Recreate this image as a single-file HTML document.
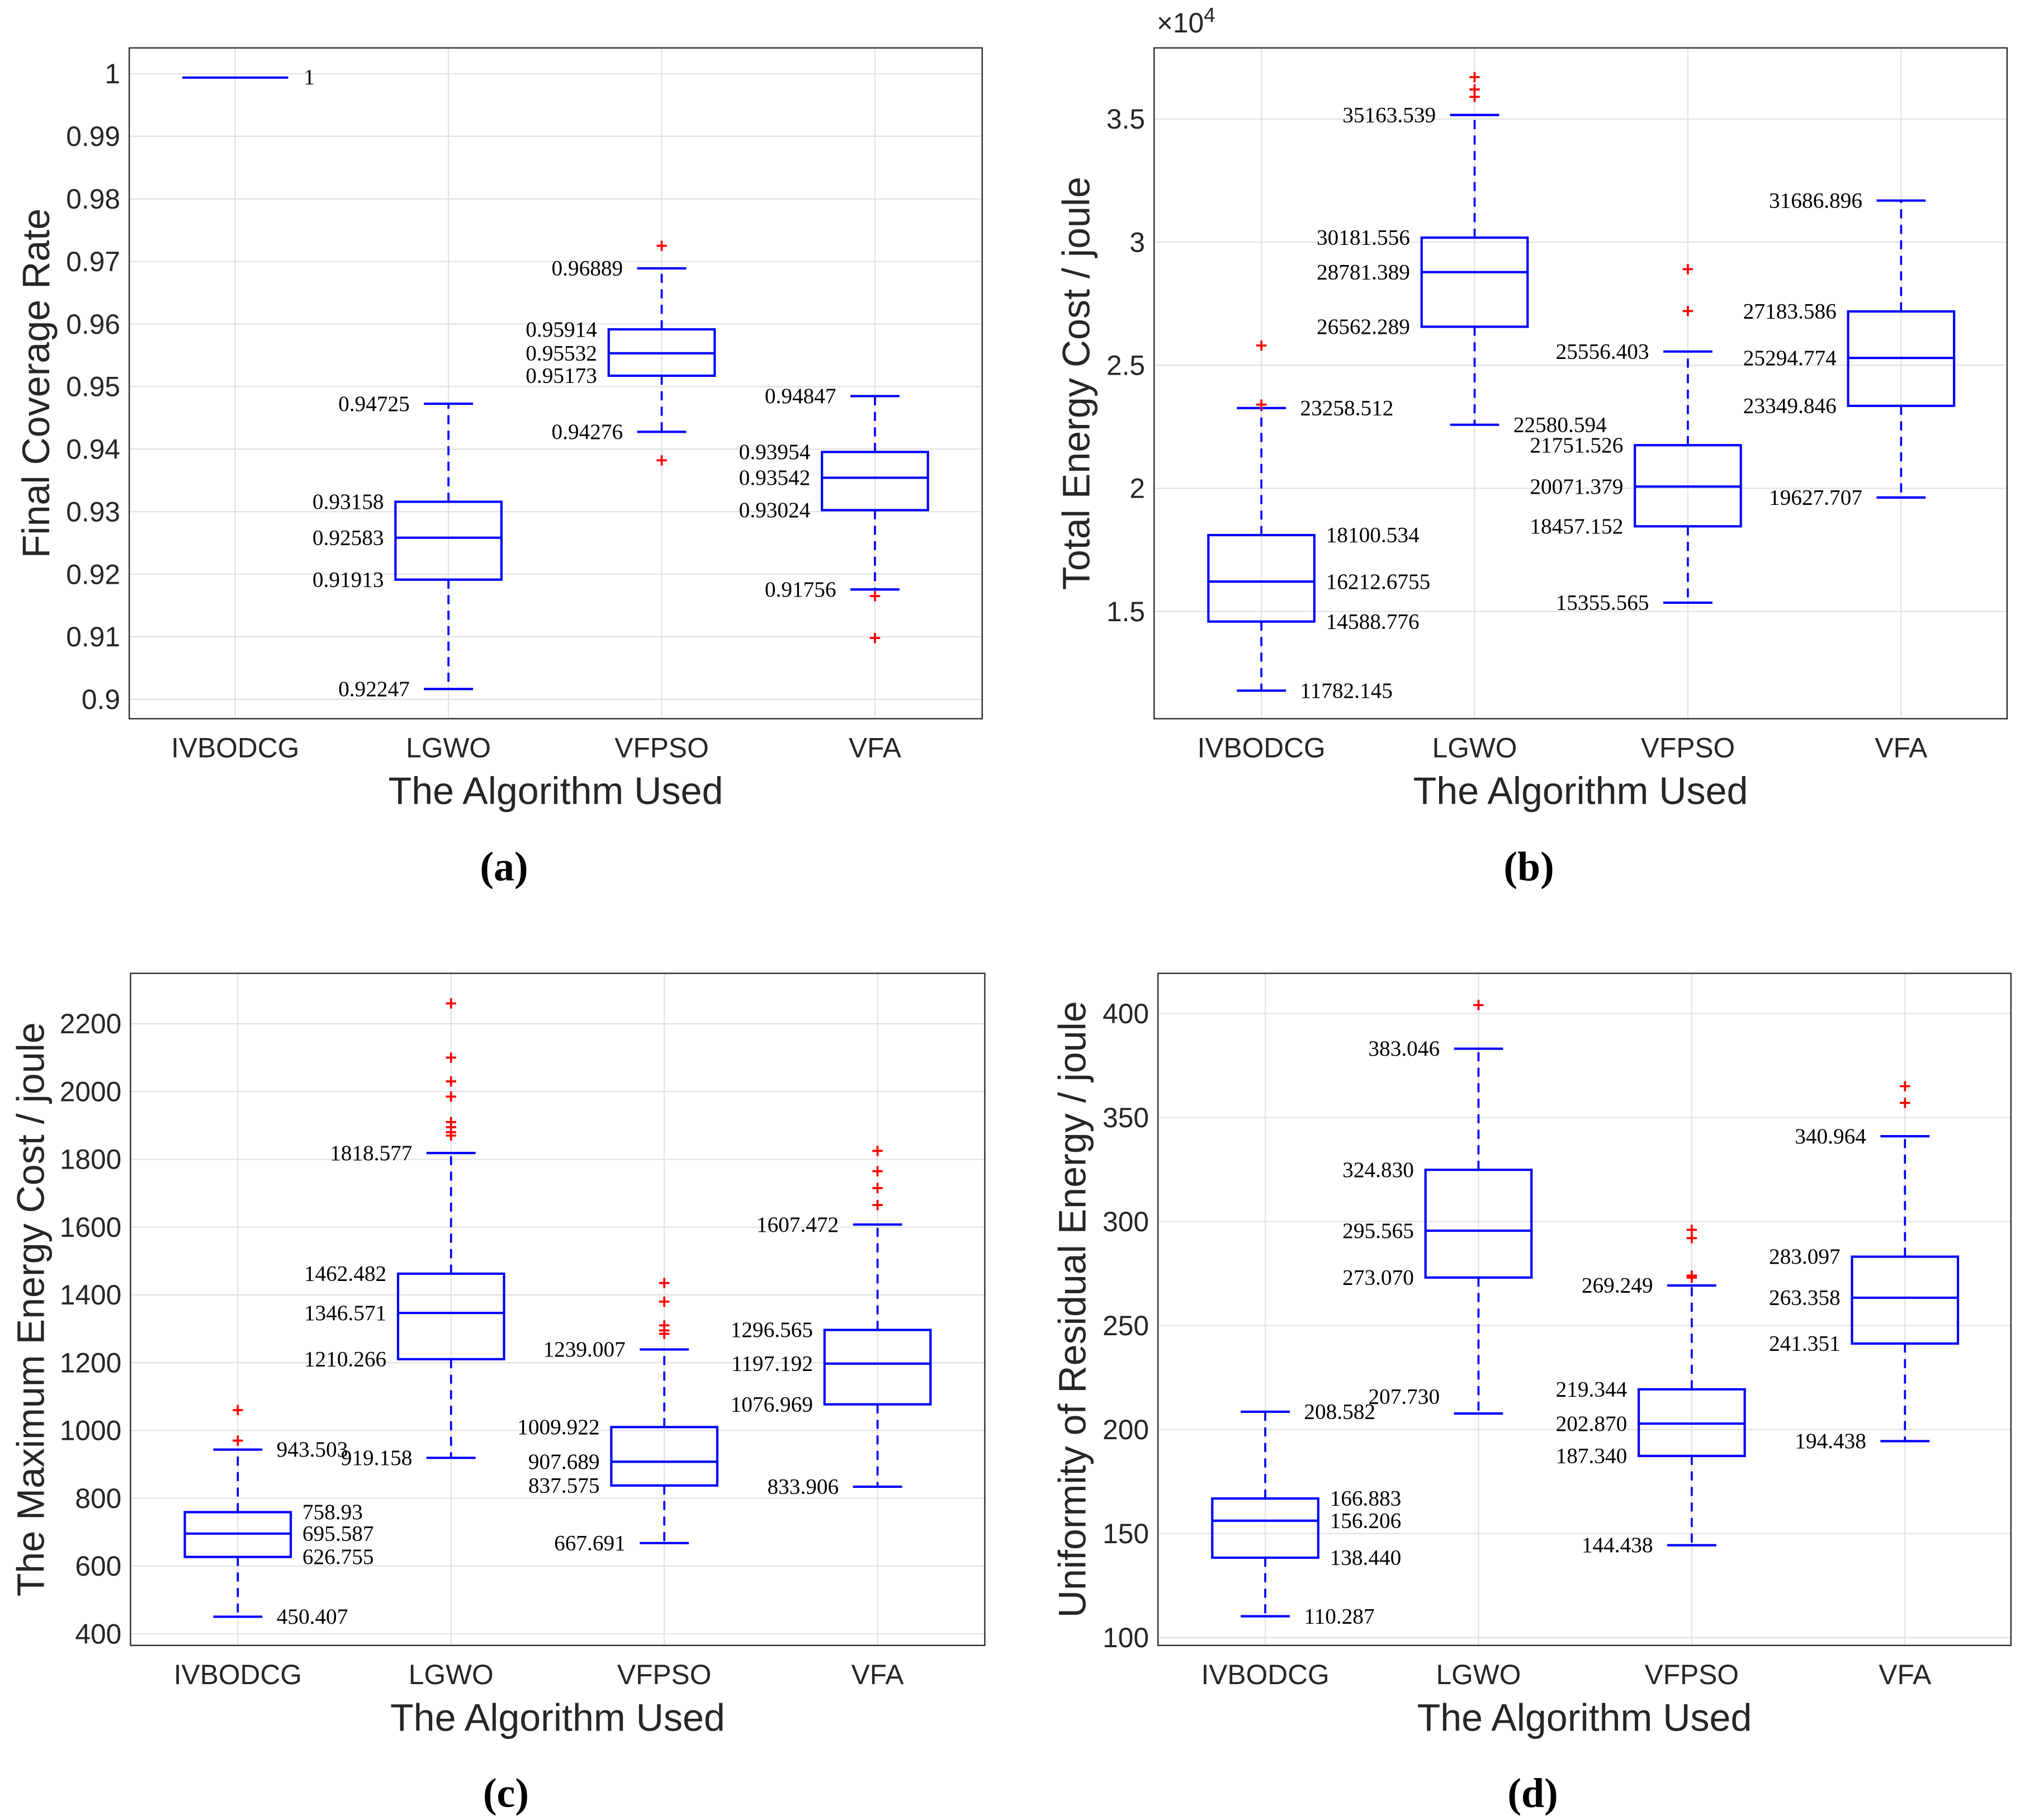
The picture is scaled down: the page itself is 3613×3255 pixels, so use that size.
<!DOCTYPE html>
<html><head><meta charset="utf-8"><style>
html,body{margin:0;padding:0;background:#fff;}
svg{display:block;}
.tick{font-family:"Liberation Sans",sans-serif;font-size:21.5px;fill:#262626;}
.ttl{font-family:"Liberation Sans",sans-serif;font-size:29.5px;fill:#262626;}
.lab{font-family:"Liberation Serif",serif;font-size:17px;fill:#000;}
.cap{font-family:"Liberation Serif",serif;font-size:32px;font-weight:bold;fill:#000;}
</style></head><body>
<svg id="fig" width="3613" height="3255" viewBox="0 0 1563 1408" xmlns="http://www.w3.org/2000/svg"></svg>
<script>
const categories = ["IVBODCG","LGWO","VFPSO","VFA"];
// Panel (a) Final Coverage Rate: [min, q1, median, q3, max]
const statsA = [[1,1,1,1,1],[0.90165,0.91913,0.92583,0.93158,0.94725],[0.94276,0.95173,0.95532,0.95914,0.96889],[0.91756,0.93024,0.93542,0.93954,0.94847]];
const labelsA = [["1","1","1","1","1"],["0.92247","0.91913","0.92583","0.93158","0.94725"],["0.94276","0.95173","0.95532","0.95914","0.96889"],["0.91756","0.93024","0.93542","0.93954","0.94847"]];
const outliersA = [[],[],[0.9725,0.9382],[0.9165,0.9098]];
const ticksA = [0.9,0.91,0.92,0.93,0.94,0.95,0.96,0.97,0.98,0.99,1];
const tickLabelsA = ["0.9","0.91","0.92","0.93","0.94","0.95","0.96","0.97","0.98","0.99","1"];
// Panel (b) Total Energy Cost
const statsB = [[11782.145,14588.776,16212.6755,18100.534,23258.512],[22580.594,26562.289,28781.389,30181.556,35163.539],[15355.565,18457.152,20071.379,21751.526,25556.403],[19627.707,23349.846,25294.774,27183.586,31686.896]];
const labelsB = [["11782.145","14588.776","16212.6755","18100.534","23258.512"],["22580.594","26562.289","28781.389","30181.556","35163.539"],["15355.565","18457.152","20071.379","21751.526","25556.403"],["19627.707","23349.846","25294.774","27183.586","31686.896"]];
const outliersB = [[25800,23400],[36700,36200,35900],[28900,27200],[]];
const ticksB = [15000,20000,25000,30000,35000];
const tickLabelsB = ["1.5","2","2.5","3","3.5"];
// Panel (c) Maximum Energy Cost
const statsC = [[450.407,626.755,695.587,758.93,943.503],[919.158,1210.266,1346.571,1462.482,1818.577],[667.691,837.575,907.689,1009.922,1239.007],[833.906,1076.969,1197.192,1296.565,1607.472]];
const labelsC = [["450.407","626.755","695.587","758.93","943.503"],["919.158","1210.266","1346.571","1462.482","1818.577"],["667.691","837.575","907.689","1009.922","1239.007"],["833.906","1076.969","1197.192","1296.565","1607.472"]];
const outliersC = [[1060,970],[2260,2100,2030,1985,1910,1895,1880,1870],[1435,1380,1310,1295,1285],[1825,1765,1715,1665]];
const ticksC = [400,600,800,1000,1200,1400,1600,1800,2000,2200];
const tickLabelsC = ticksC.map(String);
// Panel (d) Uniformity of Residual Energy
const statsD = [[110.287,138.44,156.206,166.883,208.582],[207.73,273.07,295.565,324.83,383.046],[144.438,187.34,202.87,219.344,269.249],[194.438,241.351,263.358,283.097,340.964]];
const labelsD = [["110.287","138.440","156.206","166.883","208.582"],["207.730","273.070","295.565","324.830","383.046"],["144.438","187.340","202.870","219.344","269.249"],["194.438","241.351","263.358","283.097","340.964"]];
const outliersD = [[],[404],[296,292,274,273],[365,357]];
const ticksD = [100,150,200,250,300,350,400];
const tickLabelsD = ticksD.map(String);

const NS="http://www.w3.org/2000/svg";
const fig=document.getElementById('fig');
function mk(tag,attrs,parent,text){const e=document.createElementNS(NS,tag);for(const k in attrs)e.setAttribute(k,attrs[k]);if(text!==undefined)e.textContent=text;(parent||fig).appendChild(e);return e;}

function panel(p){
  const g=mk('g',{});
  
  
  const ys=v=>p.yA+(v-p.vA)*(p.yB-p.yA)/(p.vB-p.vA);
  const xs=i=>p.cx0+i*p.dx;
  const bw=41, cw=19;
  mk('rect',{x:p.x0,y:p.y0,width:p.x1-p.x0,height:p.y1-p.y0,fill:'#fff'},g);
  p.ticks.forEach((t,i)=>{
    const y=ys(t);
    const gl=mk('line',{x1:p.x0,x2:p.x1,y1:y,y2:y,stroke:'#e3e3e3','stroke-width':1},g);
    
    
    const tl=mk('text',{x:p.x0-7,y:y+7.5,'text-anchor':'end',class:'tick'},g,p.tickLabels[i]);
    
    
  });
  categories.forEach((c,i)=>{
    const x=xs(i);
    mk('line',{x1:x,x2:x,y1:p.y0,y2:p.y1,stroke:'#e3e3e3','stroke-width':1},g);
    const tl=mk('text',{x:x,y:p.y1+30,'text-anchor':'middle',class:'tick'},g,c);
    
    
  });
  const fr=mk('rect',{x:p.x0,y:p.y0,width:p.x1-p.x0,height:p.y1-p.y0,fill:'none',stroke:'#262626','stroke-width':1},g);
  
  
  categories.forEach((c,i)=>{
    const s=p.stats[i], L=p.labels[i], x=xs(i);
    const bg=mk('g',{},g);
    
    
    const blue='#0000ff';
    if(s[0]===s[4]){
      mk('line',{x1:x-bw,x2:x+bw,y1:ys(s[2])+3,y2:ys(s[2])+3,stroke:blue,'stroke-width':1.8},bg);
      mk('text',{x:x+bw+12,y:ys(s[2])+8,class:'lab'},bg,L[2]);
      return;
    }
    mk('line',{x1:x,x2:x,y1:ys(s[3]),y2:ys(s[4]),stroke:blue,'stroke-width':1.6,'stroke-dasharray':'7,5'},bg);
    mk('line',{x1:x,x2:x,y1:ys(s[1]),y2:ys(s[0]),stroke:blue,'stroke-width':1.6,'stroke-dasharray':'7,5'},bg);
    mk('line',{x1:x-cw,x2:x+cw,y1:ys(s[4]),y2:ys(s[4]),stroke:blue,'stroke-width':1.8},bg);
    mk('line',{x1:x-cw,x2:x+cw,y1:ys(s[0]),y2:ys(s[0]),stroke:blue,'stroke-width':1.8},bg);
    mk('rect',{x:x-bw,y:ys(s[3]),width:2*bw,height:ys(s[1])-ys(s[3]),fill:'none',stroke:blue,'stroke-width':1.8},bg);
    mk('line',{x1:x-bw,x2:x+bw,y1:ys(s[2]),y2:ys(s[2]),stroke:blue,'stroke-width':1.8},bg);
    const side=p.side[i];
    const minSide=p.minSide?p.minSide[i]:side;
    [0,1,2,3,4].forEach(k=>{
      const isW=(k===0||k===4);
      const sd=(k===0)?minSide:side;
      const off=isW?(cw+11):(bw+9);
      const tx=sd==='r'?x+off:x-off;
      const dy=(k===0&&p.minDy)?p.minDy[i]:0;
      mk('text',{x:tx,y:ys(s[k])+5.5+dy,'text-anchor':sd==='r'?'start':'end',class:'lab'},bg,L[k]);
    });
    p.outliers[i].forEach(o=>{
      const y=ys(o);
      const pl=mk('path',{d:`M${x-4},${y}H${x+4}M${x},${y-4}V${y+4}`,stroke:'#ff0000','stroke-width':1.6},bg);
      
      
    });
  });
  const cx=(p.x0+p.x1)/2;
  const xt=mk('text',{x:cx,y:p.y1+66,'text-anchor':'middle',class:'ttl'},g,'The Algorithm Used');
  
  
  const yc=(p.y0+p.y1)/2;
  const yt=mk('text',{x:p.ytx,y:yc,'text-anchor':'middle',class:'ttl',transform:`rotate(-90 ${p.ytx} ${yc})`},g,p.ytitle);
  
  
  const cp=mk('text',{x:cx-40,y:p.y1+125,'text-anchor':'middle',class:'cap'},g,p.cap);
  
  
  if(p.exp){
    const ex=mk('text',{x:p.x0+2,y:p.y0-12,class:'tick'},g,'\u00d710');
    mk('tspan',{dy:-8,'font-size':'16'},ex,'4');
    
    
  }
}

panel({name:'panel-a-coverage',x0:100,x1:760,y0:37,y1:556,yA:541,vA:0.9,yB:57,vB:1,cx0:182,dx:165,
  stats:statsA,labels:labelsA,outliers:outliersA,ticks:ticksA,tickLabels:tickLabelsA,side:['r','l','l','l'],
  ytitle:'Final Coverage Rate',ytx:38,cap:'(a)'});
panel({name:'panel-b-total-energy',x0:893,x1:1553,y0:37,y1:556,yA:473,vA:15000,yB:92,vB:35000,cx0:976,dx:165,
  stats:statsB,labels:labelsB,outliers:outliersB,ticks:ticksB,tickLabels:tickLabelsB,side:['r','l','l','l'],minSide:['r','r','l','l'],
  ytitle:'Total Energy Cost / joule',ytx:843,cap:'(b)',exp:true});
panel({name:'panel-c-max-energy',x0:101,x1:762,y0:753,y1:1273,yA:1264,vA:400,yB:792,vB:2200,cx0:184,dx:165,
  stats:statsC,labels:labelsC,outliers:outliersC,ticks:ticksC,tickLabels:tickLabelsC,side:['r','l','l','l'],
  ytitle:'The Maximum Energy Cost / joule',ytx:34,cap:'(c)'});
panel({name:'panel-d-uniformity',x0:896,x1:1556,y0:753,y1:1273,yA:1267,vA:100,yB:784,vB:400,cx0:979,dx:165,
  stats:statsD,labels:labelsD,outliers:outliersD,ticks:ticksD,tickLabels:tickLabelsD,side:['r','l','l','l'],minDy:[0,-13,0,0],
  ytitle:'Uniformity of Residual Energy / joule',ytx:840,cap:'(d)'});
</script>
</body></html>
